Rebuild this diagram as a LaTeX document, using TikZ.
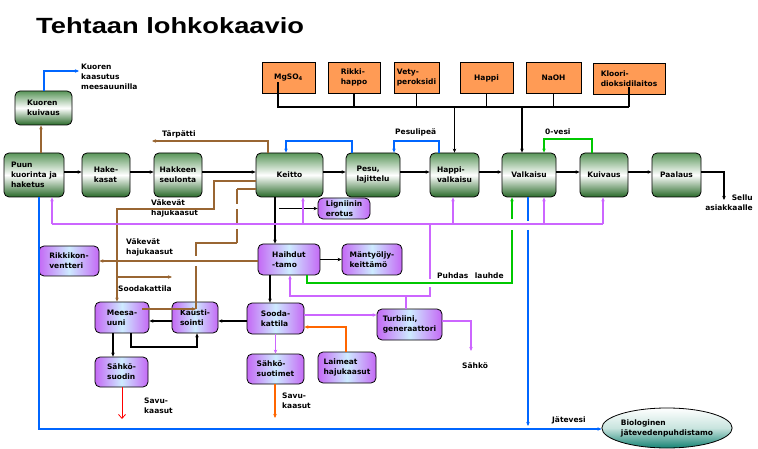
\documentclass[tikz,border=0pt]{standalone}
\usepackage{fontspec}
\usepackage{graphicx}
\setmainfont{DejaVu Sans}
\newfontfamily\titlefont{Liberation Sans}
\usetikzlibrary{arrows.meta,shapes.geometric}
\definecolor{gtop}{RGB}{90,150,90}
\definecolor{gbot}{RGB}{40,105,40}
\definecolor{pur}{RGB}{196,105,245}
\definecolor{pmid}{RGB}{205,235,255}
\definecolor{obox}{RGB}{255,155,85}
\definecolor{brn}{RGB}{153,102,51}
\definecolor{blu}{RGB}{0,102,255}
\definecolor{grn}{RGB}{0,200,0}
\definecolor{purl}{RGB}{204,102,255}
\definecolor{org}{RGB}{255,102,0}
\definecolor{teal2}{RGB}{20,130,115}
\definecolor{tealmid}{RGB}{200,228,222}
\begin{document}
\begin{tikzpicture}[x=1pt,y=-1pt,
  every node/.style={font=\fontsize{7.5}{10}\selectfont\bfseries, align=left, inner sep=0pt},
  gbox/.style={draw, line width=0.8pt, rounded corners=5pt, top color=gtop, bottom color=gbot, middle color=white},
  pbox/.style={draw, line width=0.8pt, rounded corners=5pt, left color=pur, right color=pur, middle color=pmid, minimum height=31pt},
  obx/.style={draw, line width=0.8pt, fill=obox, minimum height=31pt},
  tip/.style={-{Stealth[length=4pt,width=3.5pt]}},
  blk/.style={draw=black, line width=1.3pt},
  blkar/.style={blk, tip},
  br/.style={draw=brn, line width=1.4pt},
  brar/.style={br, tip},
  bl/.style={draw=blu, line width=1.5pt},
  blar/.style={bl, tip},
  gr/.style={draw=grn, line width=1.5pt},
  grar/.style={gr, tip},
  pu/.style={draw=purl, line width=1.5pt},
  puar/.style={pu, tip},
  orar/.style={draw=org, line width=1.5pt, tip}
]
\useasboundingbox (0,0) rectangle (758,449);
\node[anchor=base west, font=\titlefont\fontsize{22}{26}\selectfont\bfseries] (title) at (36,34) {\scalebox{1.24}[1]{Tehtaan lohkokaavio}};

% green boxes
\node[gbox,minimum width=57pt,minimum height=34pt] (kuoren) at (43.5,108) {Kuoren\\kuivaus};
\node[gbox,minimum width=60pt,minimum height=44pt] (puun) at (34,175) {Puun\\kuorinta ja\\haketus};
\node[gbox,minimum width=48pt,minimum height=44pt] (hake) at (106,175) {Hake-\\kasat};
\node[gbox,minimum width=48pt,minimum height=44pt] (seul) at (178,175) {Hakkeen\\seulonta};
\node[gbox,minimum width=67pt,minimum height=44pt] (keitto) at (289.5,175) {Keitto};
\node[gbox,minimum width=54pt,minimum height=44pt] (pesu) at (373,175) {Pesu,\\lajittelu};
\node[gbox,minimum width=49pt,minimum height=44pt] (happiv) at (454.5,175) {Happi-\\valkaisu};
\node[gbox,minimum width=54pt,minimum height=44pt] (valk) at (529,175) {Valkaisu};
\node[gbox,minimum width=48pt,minimum height=44pt] (kuiv) at (604,175) {Kuivaus};
\node[gbox,minimum width=49pt,minimum height=44pt] (paal) at (676.5,175) {Paalaus};

% orange boxes
\node[obx,minimum width=53pt] (mgso) at (288.5,77.5) {MgSO\textsubscript{4}};
\node[obx,minimum width=52pt] (rikki) at (354,77.5) {Rikki-\\happo};
\node[obx,minimum width=45pt] (vety) at (416.5,78) {Vety-\\peroksidi};
\node[obx,minimum width=53pt] (happi) at (486.5,78) {Happi};
\node[obx,minimum width=55pt] (naoh) at (553.5,78) {NaOH};
\node[obx,minimum width=72pt] (kloori) at (629,79) {Kloori-\\dioksidilaitos};

% purple boxes
\node[pbox,minimum width=60pt,minimum height=30pt] (rikkik) at (69,261) {Rikkikon-\\ventteri};
\node[pbox,minimum width=54pt] (meesa) at (122,317.5) {Meesa-\\uuni};
\node[pbox,minimum width=46pt] (kausti) at (195,317.5) {Kausti-\\sointi};
\node[pbox,minimum width=57pt] (sooda) at (275.5,318.5) {Sooda-\\kattila};
\node[pbox,minimum width=62pt] (haihd) at (289,259.5) {Haihdut\\-tamo};
\node[pbox,minimum width=60pt] (manty) at (372,259.5) {Mäntyöljy-\\keittämö};
\node[pbox,minimum width=52pt,minimum height=21pt] (lign) at (344,208.5) {Ligniinin\\erotus};
\node[pbox,minimum width=65pt] (turb) at (409.5,324.5) {Turbiini,\\generaattori};
\node[pbox,minimum width=53pt,minimum height=30pt] (ssuodin) at (121.5,372) {Sähkö-\\suodin};
\node[pbox,minimum width=57pt,minimum height=30pt] (ssuot) at (275.5,369) {Sähkö-\\suotimet};
\node[pbox,minimum width=58pt] (laim) at (347,367.5) {Laimeat\\hajukaasut};
\node[ellipse, draw, line width=0.8pt, top color=white, bottom color=teal2, middle color=tealmid, minimum width=115pt, minimum height=40pt] (bio) at (667,428) {Biologinen\\jätevedenpuhdistamo};

% labels
\node[anchor=north west] (lkk) at (81,64) {Kuoren\\kaasutus\\meesauunilla};
\node[anchor=north west] (ltarp) at (162,130.5) {Tärpätti};
\node[anchor=north west] (lpesul) at (395,128) {Pesulipeä};
\node[anchor=north west] (lovesi) at (545,129) {0-vesi};
\node[anchor=north west] (lvak1) at (151,199) {Väkevät\\hajukaasut};
\node[anchor=north west] (lvak2) at (126,238) {Väkevät\\hajukaasut};
\node[anchor=north west] (lsoo) at (118,285.5) {Soodakattila};
\node[anchor=north west] (lpuh) at (437,273) {Puhdas\hspace{4pt} lauhde};
\node[anchor=north east, align=right] (lsellu) at (753,195) {Sellu\\asiakkaalle};
\node[anchor=north west] (lsah) at (462,362) {Sähkö};
\node[anchor=north west] (lsavu1) at (144,398) {Savu-\\kaasut};
\node[anchor=north west] (lsavu2) at (282,393) {Savu-\\kaasut};
\node[anchor=north west] (ljate) at (552,416) {Jätevesi};

% coordinates
\coordinate (my) at (0,172);
\coordinate (bus) at (0,107);
\coordinate (bv) at (522,107);
\coordinate (kx) at (275,0);
\coordinate (lg) at (279,208.5);
\coordinate (hx) at (270,0);
\coordinate (sy) at (0,321);
\coordinate (m1) at (131,0);
\coordinate (mk) at (197,347);
\coordinate (m2) at (113,0);
\coordinate (se) at (724,200);

% black main flow
\draw[blkar] (puun.east |- my) -- (hake.west |- my);
\draw[blkar] (hake.east |- my) -- (seul.west |- my);
\draw[blkar] (seul.east |- my) -- (keitto.west |- my);
\draw[blkar] (keitto.east |- my) -- (pesu.west |- my);
\draw[blkar] (pesu.east |- my) -- (happiv.west |- my);
\draw[blkar] (happiv.east |- my) -- (valk.west |- my);
\draw[blkar] (valk.east |- my) -- (kuiv.west |- my);
\draw[blkar] (kuiv.east |- my) -- (paal.west |- my);
\draw[blkar] (paal.east |- my) -| (se);

% chemical bus
\draw[blk] ([shift={(-10.5,5)}]mgso.center) |- (kloori.south |- bus);
\draw[blk] (rikki.south) -- (rikki.south |- bus);
\draw[blk] (vety.south) -- (vety.south |- bus);
\draw[blk] (happi.south) -- (happi.south |- bus);
\draw[blk] (naoh.south) -- (naoh.south |- bus);
\draw[blk, line width=2.6pt] ([shift={(0,8)}]kloori.center) -- (kloori.center |- bus);
\draw[blkar] (happiv.north |- bus) -- (happiv.north);
\draw[blkar] (bv) -- (valk.north -| bv);

% black lower
\draw[blkar] (keitto.south -| kx) -- (haihd.north -| kx);
\draw[blkar] (lg) -- (lign.west);
\draw[blkar] (haihd.east) -- (manty.west);
\draw[blkar] (haihd.south -| hx) -- (sooda.north -| hx);
\draw[blkar] (sooda.west |- sy) -- (kausti.east |- sy);
\draw[blkar] (kausti.west |- sy) -- (meesa.east |- sy);
\draw[blkar] (meesa.south -| m1) |- (mk) -- (kausti.south -| mk);
\draw[blkar] (meesa.south -| m2) -- (ssuodin.north -| m2);

% brown
\coordinate (b1) at (41,0);
\coordinate (t1) at (268,0);
\coordinate (tarp) at (152,141);
\coordinate (v1) at (214,181);
\coordinate (v2) at (117,209);
\coordinate (s1) at (117,277);
\coordinate (s2) at (172,277);
\coordinate (d1) at (237,189);
\coordinate (d2) at (237,243);
\coordinate (d3) at (196,243);
\coordinate (d4) at (196,256);
\coordinate (d5) at (196,266);
\coordinate (d6) at (196,309);
\coordinate (mb) at (142,309);
\coordinate (ry) at (0,261);
\draw[brar] (puun.north -| b1) -- (kuoren.south -| b1);
\draw[brar] (keitto.north -| t1) |- (tarp);
\draw[brar] (keitto.west |- v1) -- (v1) |- (v2) -- (meesa.north -| v2);
\draw[brar] (s1) -- (s2);
\draw[br] (keitto.west |- d1) -- (d1);
\draw[br, dash pattern=on 15pt off 5pt] (d1) -- (d2);
\draw[br] (d2) -- (d3) -- (d4);
\draw[br] (d5) -- (d6);
\draw[brar] (mb) -- (d6);
\draw[brar] (haihd.west |- ry) -- (rikkik.east |- ry);

% blue
\coordinate (k1) at (44,0);
\coordinate (kk) at (79,71);
\coordinate (p1) at (352,141);
\coordinate (p2) at (286,141);
\coordinate (h1) at (439,141);
\coordinate (h2) at (394,141);
\coordinate (bl0) at (39,429);
\coordinate (vb1) at (528,221);
\coordinate (vb2) at (528,230);
\coordinate (vb3) at (528,426);
\draw[blar] (kuoren.north -| k1) |- (kk);
\draw[blar] (pesu.north -| p1) -- (p1) -- (p2) -- (keitto.north -| p2);
\draw[blar] (happiv.north -| h1) -- (h1) -- (h2) -- (pesu.north -| h2);
\draw[blar, line width=1.9pt] (puun.south -| bl0) -- (bl0) -- (bio.west |- bl0);
\draw[bl] (valk.south -| vb1) -- (vb1);
\draw[blar] (vb2) -- (vb3);

% green
\coordinate (g1) at (592,139);
\coordinate (g2) at (544,139);
\coordinate (g3) at (307,283);
\coordinate (g4) at (512,283);
\coordinate (g5) at (512,230);
\coordinate (g6) at (512,219);
\draw[grar] (kuiv.north -| g1) -- (g1) -- (g2) -- (valk.north -| g2);
\draw[gr] (haihd.south -| g3) -- (g3) -- (g4) -- (g5);
\draw[grar] (g6) -- (valk.south -| g6);

% purple
\coordinate (pl) at (52,224);
\coordinate (pr) at (603,224);
\coordinate (pk) at (303,224);
\coordinate (ph) at (453,224);
\coordinate (pv) at (544,224);
\coordinate (q1) at (430,224);
\coordinate (q2) at (430,279);
\coordinate (q3) at (430,287);
\coordinate (q5) at (430,296);
\coordinate (q6) at (290,296);
\coordinate (q7) at (406,296);
\coordinate (qy) at (0,315);
\coordinate (q8) at (471,321);
\coordinate (q9) at (471,351);
\draw[pu] (pl) -- (pr);
\draw[puar] (pl) -- (puun.south -| pl);
\draw[puar] (pk) -- (keitto.south -| pk);
\draw[puar] (ph) -- (happiv.south -| ph);
\draw[puar] (pv) -- (valk.south -| pv);
\draw[puar] (pr) -- (kuiv.south -| pr);
\draw[pu] (q1) -- (q2);
\draw[puar] (q3) -- (q5) -- (q6) -- (haihd.south -| q6);
\draw[pu] (q7) -- (turb.north -| q7);
\draw[puar] (sooda.east |- qy) -- (turb.west |- qy);
\draw[puar] (turb.east |- q8) -- (q8) -- (q9);
\draw[puar] (sooda.south) -- (ssuot.north);

% orange and red
\coordinate (o1) at (346,327);
\coordinate (o2) at (275,418);
\coordinate (r1) at (122,419);
\draw[orar] (laim.north -| o1) -- (o1) -- (sooda.east |- o1);
\draw[orar] (ssuot.south -| o2) -- (o2);
\draw[draw=red, line width=0.8pt, -{Straight Barb[length=4pt,width=7pt]}] (ssuodin.south -| r1) -- (r1);
\end{tikzpicture}
\end{document}
